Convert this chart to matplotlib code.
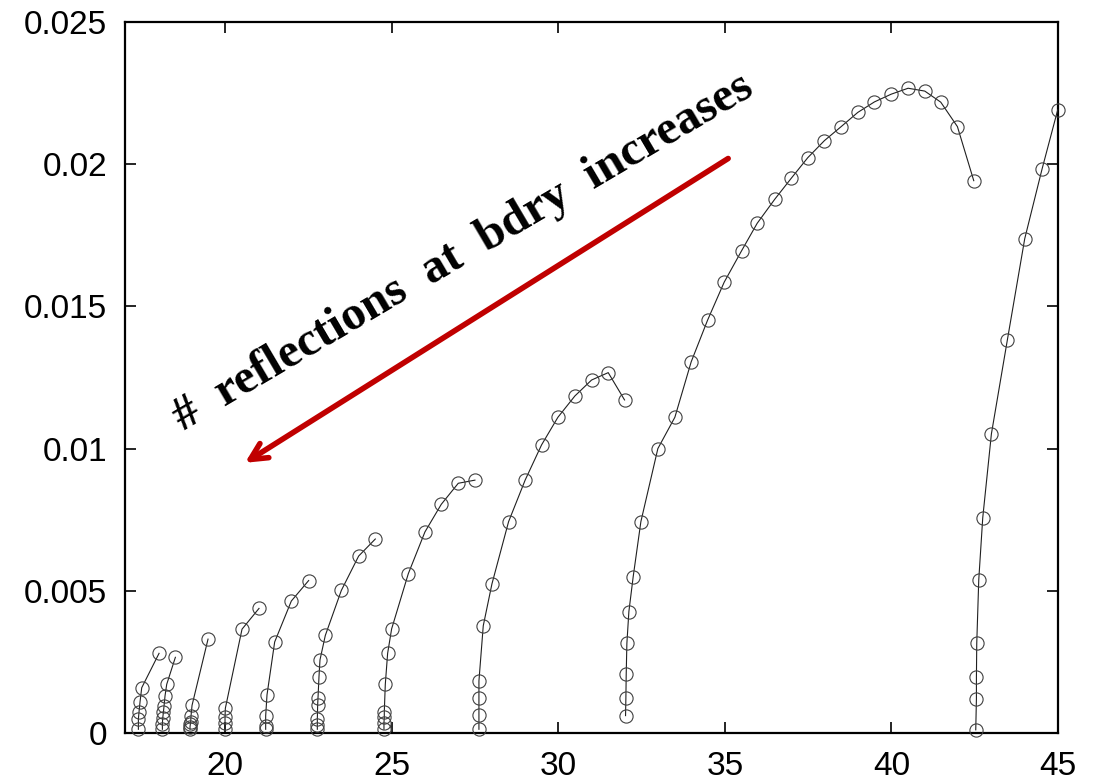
#!/usr/bin/env python
# -*- coding: utf-8 -*-
import matplotlib
matplotlib.use('Agg')
import matplotlib.pyplot as plt
import numpy as np

## branch data (x, y) -- one list pair per branch
x1 = [17.40, 17.40, 17.42, 17.45, 17.50, 18.02]
y1 = [0.00013, 0.00049, 0.00075, 0.00110, 0.00159, 0.00280]
x2 = [18.12, 18.12, 18.13, 18.15, 18.17, 18.20, 18.25, 18.51]
y2 = [0.00013, 0.00032, 0.00052, 0.00072, 0.00095, 0.00131, 0.00171, 0.00266]
x3 = [18.95, 18.95, 18.96, 18.97, 18.98, 19.01, 19.49]
y3 = [0.00013, 0.00022, 0.00032, 0.00040, 0.00060, 0.00097, 0.00330]
x4 = [20.00, 20.00, 20.00, 20.01, 20.51, 21.02]
y4 = [0.00013, 0.00036, 0.00055, 0.00087, 0.00365, 0.00438]
x5 = [21.22, 21.22, 21.22, 21.26, 21.49, 21.99, 22.51]
y5 = [0.00013, 0.00025, 0.00060, 0.00134, 0.00320, 0.00464, 0.00536]
x6 = [22.77, 22.77, 22.77, 22.78, 22.79, 22.82, 22.85, 23.01, 23.49, 24.01, 24.51]
y6 = [0.00013, 0.00028, 0.00048, 0.00098, 0.00122, 0.00198, 0.00257, 0.00343, 0.00501, 0.00622, 0.00682]
x7 = [24.77, 24.77, 24.78, 24.78, 24.81, 24.88, 25.00, 25.50, 26.00, 26.49, 27.00, 27.50]
y7 = [0.00013, 0.00036, 0.00055, 0.00075, 0.00171, 0.00280, 0.00366, 0.00560, 0.00707, 0.00804, 0.00878, 0.00889]
x8 = [27.62, 27.62, 27.62, 27.62, 27.75, 28.01, 28.51, 29.01, 29.50, 29.99, 30.50, 31.00, 31.50, 31.99]
y8 = [0.00013, 0.00063, 0.00122, 0.00183, 0.00377, 0.00524, 0.00743, 0.00890, 0.01013, 0.01110, 0.01185, 0.01241, 0.01267, 0.01171]
x9 = [32.02, 32.03, 32.04, 32.06, 32.12, 32.25, 32.48, 32.99, 33.50, 33.99, 34.48, 34.98, 35.50, 35.97,
      36.50, 36.99, 37.49, 37.99, 38.49, 38.99, 39.49, 39.99, 40.50, 41.00, 41.48, 41.98, 42.47]
y9 = [0.00061, 0.00122, 0.00207, 0.00315, 0.00427, 0.00550, 0.00743, 0.01000, 0.01110, 0.01305, 0.01451, 0.01585, 0.01695, 0.01792,
      0.01877, 0.01950, 0.02023, 0.02083, 0.02132, 0.02182, 0.02219, 0.02246, 0.02267, 0.02257, 0.02218, 0.02132, 0.01942]
x10 = [42.53, 42.55, 42.55, 42.56, 42.62, 42.74, 43.00, 43.48, 44.00, 44.52, 44.99]
y10 = [0.00011, 0.00121, 0.00196, 0.00315, 0.00538, 0.00757, 0.01052, 0.01383, 0.01738, 0.01983, 0.02191]

branches = [(x1, y1), (x2, y2), (x3, y3), (x4, y4), (x5, y5),
            (x6, y6), (x7, y7), (x8, y8), (x9, y9), (x10, y10)]

xticks = [20, 25, 30, 35, 40, 45]
yticks = [0, 0.005, 0.01, 0.015, 0.02, 0.025]
ylabels = ['0', '0.005', '0.01', '0.015', '0.02', '0.025']

plt.rcParams['font.family'] = ['Liberation Sans', 'DejaVu Sans']

fig = plt.figure(figsize=(10.97, 7.82), dpi=100)
ax = fig.add_axes([0.114, 0.0627, 0.8505, 0.9092])

for bx, by in branches:
    ax.plot(bx, by, '-', color='#202020', lw=0.8, marker='o', ms=9.5, mfc='none',
            mec='#404040', mew=0.8, clip_on=False, zorder=3)

ax.set_xlim(17, 45)
ax.set_ylim(0, 0.025)
ax.set_xticks(xticks)
ax.set_yticks(yticks)
ax.set_yticklabels(ylabels)
ax.tick_params(direction='in', length=8, width=1.2, labelsize=24,
               top=True, right=True)
ax.tick_params(axis='y', pad=13)
ax.tick_params(axis='x', pad=13)
for s in ax.spines.values():
    s.set_linewidth(1.6)

## red arrow + rotated annotation
ax.annotate('', xy=(20.6, 0.0095), xytext=(35.1, 0.0202),
            arrowprops=dict(arrowstyle='->', lw=4, color='#c00000', mutation_scale=30,
                            shrinkA=0, shrinkB=0))
ax.text(18.75, 0.0106, '#  reflections  at  bdry  increases', rotation=30.5,
        rotation_mode='anchor', ha='left', va='baseline',
        fontsize=35, fontweight='bold', family=['Liberation Serif'])

fig.savefig('out.png', dpi=100)
